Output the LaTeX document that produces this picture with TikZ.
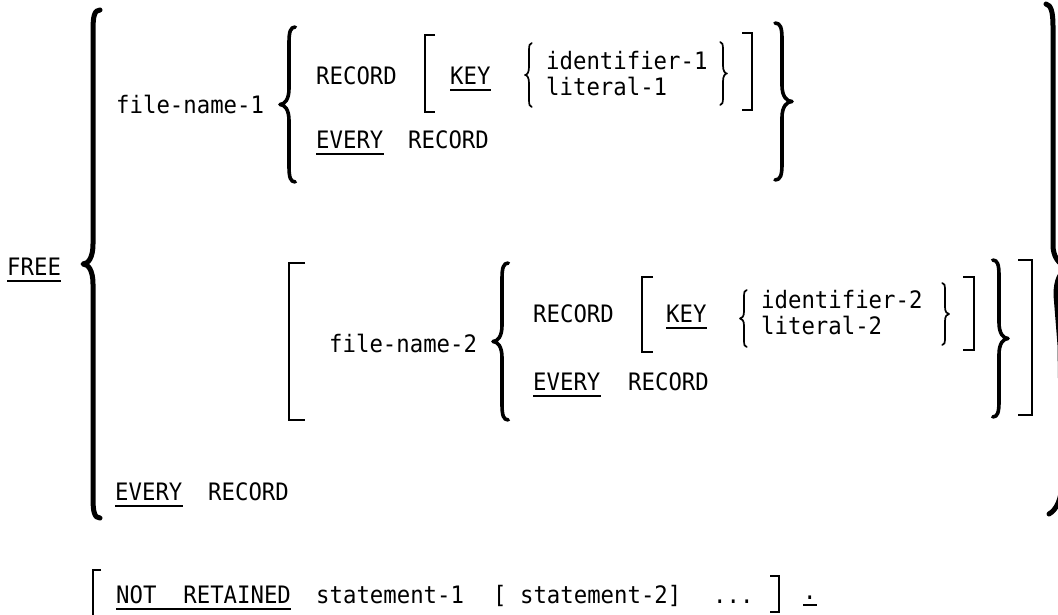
\documentclass[tikz,border=0pt]{standalone}
\usepackage{fontspec}
\setmonofont[FakeStretch=0.93]{DejaVu Sans Mono}
\tikzset{
  txt/.style={anchor=base west, inner sep=0pt, font=\ttfamily\fontsize{24}{28}\selectfont},
  ulline/.style={line width=1.8pt},
  brk/.style={line width=2.2pt},
  bigbr/.style={line width=5pt, line cap=round, line join=round},
  medbr/.style={line width=3.6pt, line cap=round, line join=round},
  smbr/.style={line width=1.7pt, line cap=round, line join=round},
}
% #1 style, #2 x, #3 top, #4 bottom, #5 dx (tip at x-dx), #6 dy
\newcommand\mybrace[6]{%
  \draw[#1] ({#2+0.7*(#5)},#3) .. controls ({#2+0.15*(#5)},#3) and (#2,{#3+0.3*#6}) .. (#2,{#3+#6})
    -- (#2,{(#3+#4)/2-#6}) .. controls (#2,{(#3+#4)/2-0.3*#6}) and ({#2-0.5*(#5)},{(#3+#4)/2}) .. ({#2-(#5)},{(#3+#4)/2})
    .. controls ({#2-0.5*(#5)},{(#3+#4)/2}) and (#2,{(#3+#4)/2+0.3*#6}) .. (#2,{(#3+#4)/2+#6})
    -- (#2,{#4-#6}) .. controls (#2,{#4-0.3*#6}) and ({#2+0.15*(#5)},#4) .. ({#2+0.7*(#5)},#4);%
}
% #1 x, #2 top, #3 bottom, #4 tick (signed)
\newcommand\mybrack[4]{%
  \draw[brk] ({#1+#4},#2) -- (#1,#2) -- (#1,#3) -- ({#1+#4},#3);%
}
\begin{document}
\begin{tikzpicture}[x=1pt,y=-1pt]
\useasboundingbox (0,0) rectangle (1058,614);
\clip (0,0) rectangle (1058,614);
\fill[white] (0,0) rectangle (1058,614);

% texts
\node[txt] (free) at (7,275) {FREE};
\node[txt] (fn1) at (116,113) {file-name-1};
\node[txt] (rec1) at (316,84) {RECORD};
\node[txt] (key1) at (450,84) {KEY};
\node[txt] (id1) at (546,69) {identifier-1};
\node[txt] (lit1) at (546,95) {literal-1};
\node[txt] (ev1) at (316,148) {EVERY};
\node[txt] (rec1b) at (408,148) {RECORD};
\node[txt] (fn2) at (329,352) {file-name-2};
\node[txt] (rec2) at (533,322) {RECORD};
\node[txt] (key2) at (666,322) {KEY};
\node[txt] (id2) at (761,308) {identifier-2};
\node[txt] (lit2) at (761,334) {literal-2};
\node[txt] (ev2) at (533,390) {EVERY};
\node[txt] (rec2b) at (628,390) {RECORD};
\node[txt] (ev3) at (115,500) {EVERY};
\node[txt] (rec3) at (208,500) {RECORD};
\node[txt] (notret) at (116,603) {NOT\ \ RETAINED};
\node[txt] (st1) at (316,603) {statement-1};
\node[txt] (st2) at (493,603) {[ statement-2]};
\node[txt] (dots) at (713,603) {...};
\node[txt] (dot) at (803,599) {.};

% underlines
\foreach \n in {free,key1,ev1,key2,ev2,ev3,notret,dot}
  \draw[ulline] ([yshift=-6pt]\n.base west) -- ([yshift=-6pt]\n.base east);

% braces
\mybrace{bigbr}{93}{10}{518}{10}{20}
\mybrace{medbr}{289}{27}{182}{9}{16}
\mybrace{medbr}{502}{263}{420}{9}{16}
\mybrace{smbr}{529}{43}{107}{4}{8}
\mybrace{smbr}{723}{42}{105}{-4}{8}
\mybrace{medbr}{782}{23}{180}{-10}{16}
\mybrace{smbr}{744}{290}{347}{4}{7}
\mybrace{smbr}{945}{283}{345}{-4}{7}
\mybrace{medbr}{999}{260}{417}{-9}{16}

% outer closing brace (partly off the page)
\draw[bigbr] (1046,4) .. controls (1051,5) and (1053,12) .. (1053,26)
  -- (1053,245) .. controls (1053,256) and (1058,264) .. (1068,268)
  .. controls (1060,272) and (1056,280) .. (1056,295)
  -- (1060,345) -- (1062,480) .. controls (1062,500) and (1056,510) .. (1049,514);

% brackets
\mybrack{425}{35}{112}{10}
\mybrack{752}{33}{110}{-10}
\mybrack{289}{263}{420}{16}
\mybrack{642}{277}{352}{11}
\mybrack{974}{277}{350}{-11}
\mybrack{1032}{260}{415}{-14}
\mybrack{93}{570}{630}{8}
\mybrack{779}{576}{612}{-9}
\end{tikzpicture}
\end{document}
